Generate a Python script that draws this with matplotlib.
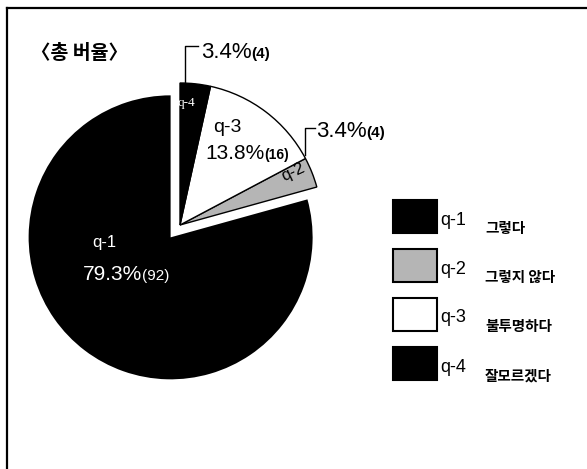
import matplotlib.pyplot as plt

plt.rcParams['font.family'] = ['Liberation Sans', 'Noto Sans CJK KR', 'DejaVu Sans']

# data
codes = ['q-1', 'q-2', 'q-3', 'q-4']
answers = ['그렇다', '그렇지 않다', '불투명하다', '잘모르겠다']
counts = [92, 4, 16, 4]
percents = ['79.3%', '3.4%', '13.8%', '3.4%']
colors = ['black', '#b5b5b5', 'white', 'black']
title = '〈총 버율〉'

W, H = 587, 469


def Y(y):
    # image row -> axes y (pixel coords, y up)
    return H - y


def two_part(ax, x, y, big, small, bs, ss, color='black', weight='bold'):
    t = ax.text(x, Y(y), big, fontsize=bs, color=color, ha='left', va='baseline')
    r = ax.figure.canvas.get_renderer()
    bb = t.get_window_extent(renderer=r)
    ax.text(x + bb.width, Y(y), small, fontsize=ss, color=color,
            fontweight=weight, ha='left', va='baseline')


fig = plt.figure(figsize=(W / 100, H / 100), dpi=100)
ax = fig.add_axes([0, 0, 1, 1])

# frame (only top and left edges are visible)
ax.plot([7, W], [Y(8), Y(8)], color='black', lw=1.6)
ax.plot([7, 7], [Y(8), 0], color='black', lw=1.6)

ax.text(31, Y(53), title, fontsize=14, family=['Noto Sans CJK KR'],
        fontweight='bold', va='center', ha='left')

wedges, _ = ax.pie(counts, colors=colors, startangle=90, counterclock=True,
                   center=(180, Y(225)), radius=142, explode=[15.5, 0, 0, 0],
                   wedgeprops=dict(edgecolor='black', linewidth=1.0),
                   frame=True)
ax.set_xlim(0, W)
ax.set_ylim(0, H)
ax.set_aspect('equal')
ax.axis('off')
wedges[0].set_edgecolor('none')

# slice labels
ax.text(92, Y(247), codes[0], fontsize=12, color='white', va='baseline')
two_part(ax, 83, 280, percents[0], '(%d)' % counts[0], 15, 11, 'white',
         'normal')

ax.text(213, Y(132), codes[2], fontsize=14, va='baseline')
two_part(ax, 205, 159, percents[2], '(%d)' % counts[2], 15, 10)

ax.text(178, Y(106), codes[3], fontsize=9.5, color='white', va='baseline',
        family=['Liberation Serif'])
ax.text(293, Y(172), codes[1], fontsize=12, rotation=25, ha='center',
        va='center')

# outside percentages with leader lines
ax.plot([185, 185, 198], [Y(83), Y(46), Y(46)], color='black', lw=1)
two_part(ax, 201, 58, percents[3], '(%d)' % counts[3], 16, 11)
ax.plot([305, 305, 315], [Y(155), Y(128), Y(128)], color='black', lw=1)
two_part(ax, 316, 137, percents[1], '(%d)' % counts[1], 16, 11)

# legend
for i in range(4):
    top = 200 + 49 * i
    ax.add_patch(plt.Rectangle((393, Y(top + 33)), 44, 33,
                               facecolor=colors[i], edgecolor='black', lw=1.5))
    ax.text(440, Y(top + 20), codes[i], fontsize=13, va='center', ha='left')
    ax.text(485, Y(top + 28), answers[i], fontsize=10.5,
            family=['Noto Sans CJK KR'], fontweight='bold',
            va='center', ha='left')

fig.savefig('out.png', dpi=100)
